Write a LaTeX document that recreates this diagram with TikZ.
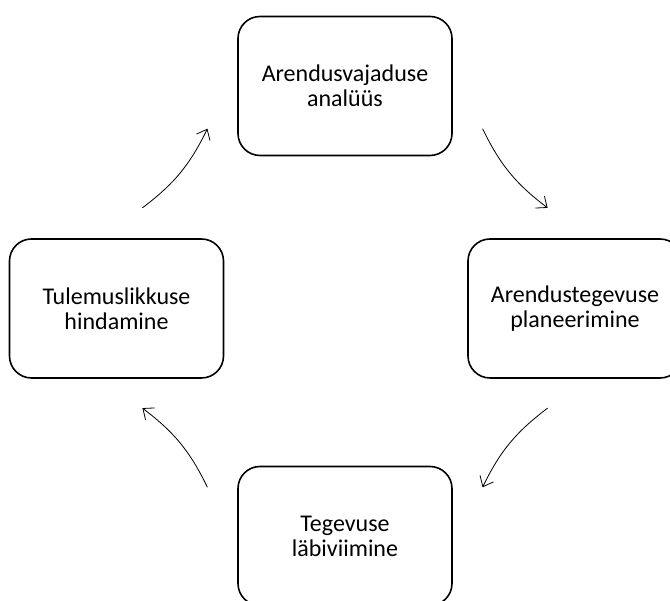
\documentclass[tikz,border=0pt]{standalone}
\usepackage{fontspec}
\setmainfont{Carlito}
\usetikzlibrary{arrows.meta,calc,positioning}

\begin{document}
\begin{tikzpicture}[x=1pt, y=1pt,
  stage/.style={draw, line width=1.6pt, rounded corners=22pt, minimum width=214pt,
    minimum height=139pt, align=center, font=\fontsize{24}{25}\selectfont},
  cyc/.style={-{Straight Barb[length=9pt, width=15pt]}, line width=0.8pt, bend right=13.5}]
  \clip (0,0) rectangle (670,601);
  % Boxes
  \node[stage] (need) at (345,515) {Arendusvajaduse\\analüüs};
  \node[stage] (plan) at (575,292.5) {Arendustegevuse\\planeerimine};
  \node[stage] (act) at (345,65) {Tegevuse\\läbiviimine};
  \node[stage] (eval) at (116.5,292.5) {Tulemuslikkuse\\hindamine};
  % Arrow ends on a circle round the middle
  \coordinate (mid) at (345,293);
  \coordinate (a1) at ($(mid)+(153.7:226)$);
  \coordinate (a2) at ($(mid)+(127.5:226)$);
  \coordinate (b1) at ($(mid)+(52.5:226)$);
  \coordinate (b2) at ($(mid)+(26.3:226)$);
  \coordinate (c1) at ($(mid)+(-26.3:226)$);
  \coordinate (c2) at ($(mid)+(-52.5:226)$);
  \coordinate (d1) at ($(mid)+(-127.5:226)$);
  \coordinate (d2) at ($(mid)+(-153.7:226)$);
  % Arrows, clockwise
  \draw[cyc] (a1) to (a2);
  \draw[cyc] (b1) to (b2);
  \draw[cyc] (c1) to (c2);
  \draw[cyc] (d1) to (d2);
\end{tikzpicture}
\end{document}
